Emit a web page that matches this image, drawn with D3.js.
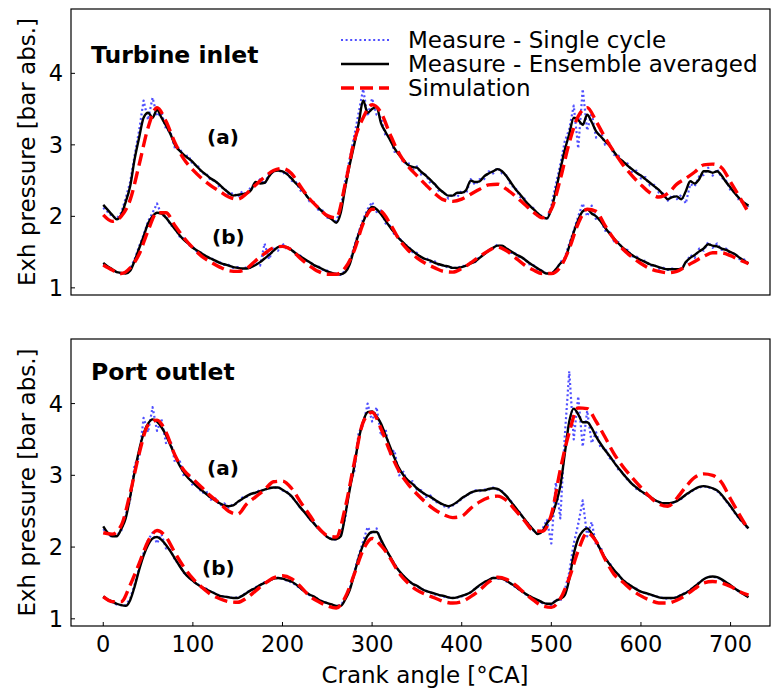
<!DOCTYPE html>
<html>
<head>
<meta charset="utf-8">
<script src="https://cdn.jsdelivr.net/npm/d3@7"></script>
<style>
  body { margin: 0; background: #fff; }
  text { font-family: "DejaVu Sans", sans-serif; }
</style>
</head>
<body>
<svg id="chart" width="772" height="690"></svg>
<script>
// crank angle grids
var angle5 = d3.range(0, 721, 5);
var angle10 = d3.range(0, 721, 10);

// ---- Turbine inlet ----
var turbA_single = [2.12,2.06,2.00,1.97,2.05,2.25,2.48,2.85,3.20,3.62,3.35,3.66,3.40,3.45,3.22,3.18,2.95,2.96,2.84,2.85,2.72,2.72,2.60,2.60,2.50,2.51,2.40,2.40,2.30,2.33,2.27,2.35,2.30,2.42,2.44,2.52,2.45,2.60,2.62,2.66,2.60,2.62,2.50,2.48,2.36,2.33,2.21,2.20,2.09,2.08,1.98,1.97,1.93,2.12,2.50,2.80,3.12,3.45,3.78,3.40,3.65,3.42,3.38,3.12,3.12,2.90,2.90,2.74,2.76,2.64,2.70,2.58,2.58,2.46,2.46,2.34,2.35,2.25,2.31,2.27,2.36,2.32,2.52,2.44,2.52,2.52,2.63,2.60,2.68,2.60,2.57,2.43,2.40,2.27,2.25,2.12,2.12,2.00,2.01,1.95,2.15,2.45,2.72,3.05,3.22,3.55,2.95,3.78,3.20,3.45,3.10,3.20,3.00,3.02,2.86,2.85,2.73,2.74,2.62,2.64,2.53,2.55,2.43,2.44,2.33,2.32,2.22,2.30,2.24,2.30,2.18,2.45,2.42,2.56,2.58,2.68,2.57,2.66,2.54,2.50,2.36,2.34,2.21,2.20,2.13];
var turbA_mean = [2.16,2.09,2.02,1.96,2.02,2.20,2.42,2.80,3.10,3.38,3.45,3.38,3.49,3.38,3.27,3.15,3.00,2.92,2.86,2.81,2.76,2.69,2.63,2.58,2.53,2.49,2.44,2.38,2.33,2.29,2.30,2.31,2.32,2.37,2.48,2.46,2.47,2.56,2.63,2.64,2.63,2.59,2.53,2.46,2.40,2.32,2.24,2.18,2.12,2.06,2.00,1.96,1.91,2.05,2.40,2.72,3.00,3.30,3.62,3.45,3.50,3.53,3.30,3.18,3.07,2.95,2.86,2.79,2.72,2.69,2.68,2.62,2.57,2.51,2.45,2.38,2.33,2.29,2.29,2.33,2.33,2.37,2.50,2.48,2.49,2.56,2.60,2.63,2.66,2.63,2.56,2.47,2.38,2.31,2.23,2.16,2.10,2.04,1.99,1.97,2.10,2.36,2.65,2.93,3.15,3.38,3.35,3.28,3.42,3.32,3.19,3.12,3.05,2.99,2.90,2.82,2.77,2.71,2.66,2.61,2.57,2.52,2.47,2.42,2.37,2.30,2.24,2.27,2.28,2.24,2.35,2.49,2.46,2.52,2.63,2.63,2.61,2.63,2.57,2.48,2.40,2.32,2.25,2.19,2.15];
var turbA_sim = [2.02,1.93,2.00,2.23,2.72,3.24,3.52,3.33,3.03,2.80,2.65,2.53,2.43,2.35,2.27,2.24,2.32,2.44,2.55,2.64,2.67,2.60,2.42,2.25,2.12,2.01,1.98,2.45,3.05,3.38,3.56,3.45,3.15,2.88,2.70,2.57,2.44,2.32,2.23,2.21,2.24,2.31,2.38,2.44,2.45,2.38,2.28,2.17,2.06,1.98,2.10,2.52,3.03,3.40,3.52,3.33,3.10,2.90,2.72,2.57,2.44,2.33,2.27,2.32,2.45,2.53,2.62,2.72,2.73,2.68,2.48,2.27,2.05];

var turbB_single = [1.33,1.29,1.25,1.22,1.20,1.21,1.27,1.40,1.58,1.74,1.93,2.05,2.18,2.02,2.00,1.88,1.84,1.72,1.69,1.60,1.57,1.50,1.49,1.43,1.42,1.37,1.36,1.32,1.32,1.28,1.29,1.26,1.29,1.28,1.35,1.31,1.62,1.40,1.55,1.52,1.62,1.54,1.55,1.46,1.45,1.38,1.37,1.31,1.30,1.25,1.24,1.20,1.20,1.18,1.24,1.36,1.58,1.78,1.96,2.10,2.20,2.06,2.08,1.90,1.87,1.74,1.71,1.60,1.59,1.50,1.49,1.41,1.42,1.36,1.37,1.31,1.32,1.28,1.29,1.27,1.31,1.30,1.36,1.36,1.44,1.46,1.53,1.55,1.61,1.57,1.56,1.49,1.48,1.42,1.41,1.33,1.32,1.25,1.24,1.19,1.21,1.24,1.36,1.42,1.62,1.80,2.00,2.18,2.00,2.15,1.95,1.96,1.80,1.78,1.65,1.64,1.53,1.53,1.44,1.44,1.37,1.38,1.31,1.32,1.27,1.28,1.25,1.27,1.24,1.28,1.34,1.46,1.42,1.55,1.52,1.64,1.56,1.62,1.53,1.55,1.48,1.48,1.40,1.40,1.33];
var turbB_mean = [1.35,1.30,1.26,1.22,1.21,1.20,1.24,1.38,1.55,1.72,1.90,2.00,2.05,2.04,1.98,1.90,1.82,1.74,1.67,1.62,1.56,1.52,1.48,1.44,1.41,1.38,1.35,1.33,1.31,1.29,1.28,1.27,1.27,1.29,1.32,1.36,1.41,1.46,1.52,1.57,1.58,1.57,1.53,1.48,1.44,1.40,1.36,1.32,1.29,1.26,1.23,1.21,1.19,1.19,1.22,1.33,1.55,1.75,1.92,2.06,2.13,2.10,2.03,1.94,1.85,1.77,1.69,1.63,1.57,1.52,1.47,1.43,1.40,1.38,1.35,1.33,1.31,1.30,1.28,1.28,1.29,1.31,1.34,1.37,1.42,1.47,1.52,1.56,1.59,1.59,1.55,1.51,1.47,1.44,1.40,1.35,1.31,1.27,1.23,1.20,1.20,1.26,1.34,1.40,1.58,1.78,1.95,2.07,2.10,2.04,2.00,1.93,1.84,1.76,1.69,1.62,1.56,1.51,1.46,1.42,1.39,1.36,1.33,1.31,1.29,1.27,1.26,1.26,1.26,1.26,1.36,1.42,1.46,1.51,1.55,1.61,1.59,1.58,1.55,1.53,1.50,1.47,1.42,1.38,1.34];
var turbB_sim = [1.32,1.25,1.20,1.28,1.47,1.80,2.05,2.05,1.87,1.70,1.56,1.44,1.36,1.29,1.24,1.23,1.27,1.38,1.48,1.56,1.58,1.53,1.41,1.31,1.23,1.19,1.19,1.28,1.52,1.90,2.10,2.07,1.90,1.68,1.53,1.42,1.34,1.28,1.23,1.22,1.27,1.35,1.44,1.52,1.57,1.52,1.42,1.32,1.25,1.20,1.20,1.29,1.55,1.90,2.10,2.07,1.87,1.68,1.54,1.43,1.34,1.27,1.23,1.21,1.23,1.30,1.37,1.44,1.49,1.49,1.45,1.39,1.34];

// ---- Port outlet ----
var portA_single = [2.25,2.18,2.14,2.17,2.22,2.45,2.65,3.15,3.25,3.80,3.60,3.95,3.62,3.78,3.45,3.50,3.18,3.22,2.98,3.02,2.85,2.88,2.75,2.78,2.66,2.68,2.58,2.61,2.55,2.60,2.61,2.69,2.70,2.75,2.75,2.80,2.79,2.83,2.82,2.84,2.79,2.77,2.70,2.64,2.54,2.49,2.39,2.34,2.25,2.21,2.13,2.12,2.10,2.18,2.40,2.85,3.05,3.60,3.70,4.00,3.75,3.95,3.55,3.65,3.30,3.35,3.00,3.05,2.88,2.92,2.80,2.79,2.70,2.72,2.63,2.62,2.57,2.55,2.58,2.62,2.67,2.72,2.75,2.79,2.78,2.80,2.80,2.83,2.80,2.78,2.70,2.64,2.54,2.48,2.38,2.32,2.23,2.19,2.25,2.38,2.05,2.90,2.40,3.55,4.45,3.50,4.10,3.40,3.90,3.45,3.60,3.38,3.38,3.24,3.20,3.07,3.04,2.93,2.89,2.81,2.78,2.73,2.70,2.65,2.63,2.60,2.61,2.61,2.65,2.67,2.73,2.76,2.81,2.83,2.85,2.83,2.82,2.78,2.72,2.64,2.56,2.47,2.39,2.32,2.25];
var portA_mean = [2.29,2.20,2.15,2.15,2.25,2.40,2.70,3.05,3.35,3.58,3.72,3.78,3.75,3.67,3.56,3.42,3.28,3.14,3.04,2.96,2.90,2.84,2.79,2.74,2.69,2.65,2.61,2.58,2.57,2.58,2.63,2.67,2.71,2.74,2.76,2.78,2.80,2.82,2.83,2.83,2.80,2.76,2.71,2.63,2.55,2.48,2.40,2.33,2.26,2.20,2.14,2.11,2.11,2.15,2.45,2.80,3.12,3.50,3.75,3.88,3.89,3.82,3.72,3.56,3.40,3.24,3.10,3.00,2.93,2.88,2.82,2.77,2.73,2.70,2.66,2.62,2.59,2.57,2.59,2.63,2.68,2.72,2.76,2.78,2.79,2.79,2.81,2.82,2.81,2.77,2.71,2.63,2.55,2.47,2.39,2.31,2.24,2.18,2.22,2.33,2.42,2.60,2.85,3.30,3.75,3.93,3.85,3.74,3.74,3.66,3.54,3.44,3.35,3.27,3.18,3.10,3.02,2.95,2.88,2.83,2.78,2.74,2.70,2.66,2.63,2.61,2.61,2.62,2.64,2.68,2.73,2.77,2.81,2.84,2.85,2.84,2.82,2.79,2.73,2.65,2.57,2.48,2.40,2.33,2.26];
var portA_sim = [2.20,2.18,2.30,2.75,3.30,3.70,3.77,3.60,3.28,3.07,2.95,2.83,2.71,2.61,2.50,2.46,2.60,2.70,2.80,2.91,2.92,2.82,2.63,2.45,2.27,2.16,2.14,2.55,3.17,3.74,3.88,3.65,3.33,3.06,2.88,2.74,2.62,2.52,2.45,2.41,2.43,2.54,2.63,2.69,2.71,2.65,2.51,2.37,2.23,2.22,2.45,3.08,3.60,3.94,3.93,3.75,3.53,3.30,3.12,2.97,2.83,2.70,2.60,2.57,2.68,2.84,2.97,3.02,3.00,2.90,2.67,2.45,2.24];

var portB_single = [1.30,1.26,1.23,1.20,1.19,1.19,1.28,1.48,1.70,1.92,2.10,2.20,2.05,2.18,1.98,1.96,1.82,1.75,1.64,1.59,1.52,1.49,1.43,1.42,1.37,1.36,1.32,1.31,1.30,1.29,1.30,1.32,1.37,1.40,1.44,1.47,1.51,1.53,1.56,1.57,1.56,1.53,1.51,1.47,1.42,1.38,1.33,1.31,1.27,1.24,1.22,1.19,1.18,1.19,1.28,1.42,1.65,1.88,2.08,2.28,2.18,2.26,2.08,1.98,1.86,1.77,1.66,1.60,1.53,1.49,1.45,1.42,1.39,1.37,1.34,1.33,1.31,1.30,1.29,1.30,1.31,1.34,1.37,1.42,1.46,1.51,1.54,1.57,1.56,1.56,1.52,1.49,1.44,1.40,1.35,1.32,1.28,1.26,1.22,1.21,1.19,1.27,1.25,1.40,1.65,2.05,2.32,2.65,2.15,2.35,2.02,2.00,1.83,1.78,1.66,1.62,1.53,1.50,1.44,1.42,1.37,1.36,1.33,1.32,1.30,1.29,1.28,1.29,1.30,1.34,1.36,1.41,1.45,1.51,1.55,1.59,1.58,1.58,1.54,1.51,1.46,1.42,1.37,1.34,1.30];
var portB_mean = [1.31,1.27,1.24,1.21,1.19,1.18,1.26,1.45,1.68,1.88,2.03,2.12,2.14,2.10,2.03,1.94,1.84,1.74,1.65,1.58,1.53,1.48,1.44,1.41,1.38,1.35,1.32,1.31,1.30,1.29,1.29,1.32,1.36,1.40,1.43,1.47,1.50,1.53,1.56,1.57,1.56,1.54,1.52,1.48,1.43,1.38,1.34,1.31,1.27,1.24,1.22,1.20,1.18,1.18,1.27,1.40,1.62,1.85,2.03,2.16,2.21,2.21,2.10,1.98,1.87,1.76,1.67,1.60,1.54,1.49,1.46,1.42,1.39,1.37,1.35,1.33,1.32,1.30,1.29,1.30,1.32,1.34,1.37,1.42,1.47,1.51,1.54,1.57,1.57,1.56,1.53,1.49,1.45,1.40,1.36,1.32,1.29,1.26,1.23,1.21,1.21,1.25,1.28,1.33,1.55,1.90,2.12,2.22,2.26,2.19,2.08,1.96,1.85,1.76,1.68,1.61,1.54,1.49,1.45,1.41,1.38,1.36,1.34,1.32,1.30,1.29,1.29,1.29,1.30,1.33,1.36,1.40,1.45,1.50,1.55,1.58,1.59,1.58,1.55,1.51,1.47,1.42,1.38,1.34,1.30];
var portB_sim = [1.31,1.24,1.24,1.47,1.77,2.08,2.23,2.14,1.92,1.72,1.56,1.44,1.34,1.28,1.24,1.23,1.29,1.39,1.49,1.57,1.60,1.56,1.45,1.32,1.24,1.18,1.15,1.30,1.62,1.96,2.12,2.02,1.85,1.64,1.50,1.40,1.34,1.29,1.24,1.22,1.24,1.31,1.40,1.51,1.58,1.55,1.47,1.36,1.26,1.18,1.16,1.28,1.57,1.95,2.20,2.08,1.83,1.62,1.51,1.40,1.32,1.26,1.22,1.22,1.26,1.33,1.42,1.50,1.52,1.50,1.45,1.38,1.33];

var xTicks = [0, 100, 200, 300, 400, 500, 600, 700];
var yTicks = [1, 2, 3, 4];
var legendLabels = ["Measure - Single cycle", "Measure - Ensemble averaged", "Simulation"];

var panels = [
    { title: "Turbine inlet", titleY: 63, top: 9, height: 286, showX: false,
      curves: [
        { tag: "(a)", tagX: 207, tagY: 144, single: turbA_single, mean: turbA_mean, sim: turbA_sim },
        { tag: "(b)", tagX: 212, tagY: 244, single: turbB_single, mean: turbB_mean, sim: turbB_sim }
      ] },
    { title: "Port outlet", titleY: 380, top: 339, height: 287, showX: true,
      curves: [
        { tag: "(a)", tagX: 207, tagY: 475, single: portA_single, mean: portA_mean, sim: portA_sim },
        { tag: "(b)", tagX: 202, tagY: 575, single: portB_single, mean: portB_mean, sim: portB_sim }
      ] }
];

var svg = d3.select("#chart");
var left = 71, right = 770;

// 0..720 with 5% padding each side
var x = d3.scaleLinear().domain([-36, 744]).range([left, right]);

var styles = {
    single: { color: "#3030ff", width: 2.2, dash: "2,2.6", curve: d3.curveLinear, opacity: 0.85 },
    mean: { color: "#000", width: 2.4, dash: null, curve: d3.curveMonotoneX, opacity: 1 },
    sim: { color: "#ff0000", width: 3.4, dash: "13,6", curve: d3.curveMonotoneX, opacity: 1 }
};

panels.forEach(function (p) {
    var y = d3.scaleLinear().domain([0.9, 4.9]).range([p.top + p.height, p.top]);
    var g = svg.append("g");

    g.append("clipPath").attr("id", "clip" + p.top)
        .append("rect").attr("x", left).attr("y", p.top).attr("width", right - left).attr("height", p.height);

    var plot = g.append("g").attr("clip-path", "url(#clip" + p.top + ")");

    p.curves.forEach(function (c) {
        ["single", "mean", "sim"].forEach(function (key) {
            var vals = c[key];
            var angles = vals.length === angle5.length ? angle5 : angle10;
            var st = styles[key];
            var line = d3.line()
                .x(function (d, i) { return x(angles[i]); })
                .y(function (d) { return y(d); })
                .curve(st.curve);
            plot.append("path")
                .attr("d", line(vals))
                .attr("fill", "none")
                .attr("stroke", st.color)
                .attr("stroke-width", st.width)
                .attr("stroke-opacity", st.opacity)
                .attr("stroke-dasharray", st.dash)
                .attr("stroke-linejoin", "round");
        });
        g.append("text")
            .attr("x", c.tagX).attr("y", c.tagY)
            .attr("font-size", 20).attr("font-weight", "bold")
            .text(c.tag);
    });

    // frame
    g.append("rect")
        .attr("x", left).attr("y", p.top)
        .attr("width", right - left).attr("height", p.height)
        .attr("fill", "none").attr("stroke", "#000").attr("stroke-width", 1.2);

    // y ticks, pointing inward
    yTicks.forEach(function (t) {
        g.append("line")
            .attr("x1", left).attr("x2", left + 4)
            .attr("y1", y(t)).attr("y2", y(t))
            .attr("stroke", "#000").attr("stroke-width", 1);
        g.append("text")
            .attr("x", left - 8).attr("y", y(t) + 8)
            .attr("text-anchor", "end").attr("font-size", 22.5)
            .text(t);
    });

    if (p.showX) {
        xTicks.forEach(function (t) {
            g.append("line")
                .attr("x1", x(t)).attr("x2", x(t))
                .attr("y1", p.top + p.height).attr("y2", p.top + p.height - 4)
                .attr("stroke", "#000").attr("stroke-width", 1);
            g.append("text")
                .attr("x", x(t)).attr("y", p.top + p.height + 26)
                .attr("text-anchor", "middle").attr("font-size", 22.5)
                .text(t);
        });
    }

    g.append("text")
        .attr("x", 91).attr("y", p.titleY)
        .attr("font-size", 23.5).attr("font-weight", "bold")
        .text(p.title);

    g.append("text")
        .attr("transform", "translate(35," + (p.top + p.height / 2) + ") rotate(-90)")
        .attr("text-anchor", "middle").attr("font-size", 23)
        .text("Exh pressure [bar abs.]");
});

svg.append("text")
    .attr("x", 425).attr("y", 683)
    .attr("text-anchor", "middle").attr("font-size", 23)
    .text("Crank angle [°CA]");

// legend
var legend = svg.append("g");
["single", "mean", "sim"].forEach(function (key, i) {
    var st = styles[key];
    var ly = 40 + i * 24;
    legend.append("line")
        .attr("x1", 341).attr("x2", 389)
        .attr("y1", ly).attr("y2", ly)
        .attr("stroke", st.color).attr("stroke-width", st.width)
        .attr("stroke-opacity", st.opacity)
        .attr("stroke-dasharray", st.dash);
    legend.append("text")
        .attr("x", 408).attr("y", ly + 8)
        .attr("font-size", 23)
        .text(legendLabels[i]);
});
</script>
</body>
</html>
